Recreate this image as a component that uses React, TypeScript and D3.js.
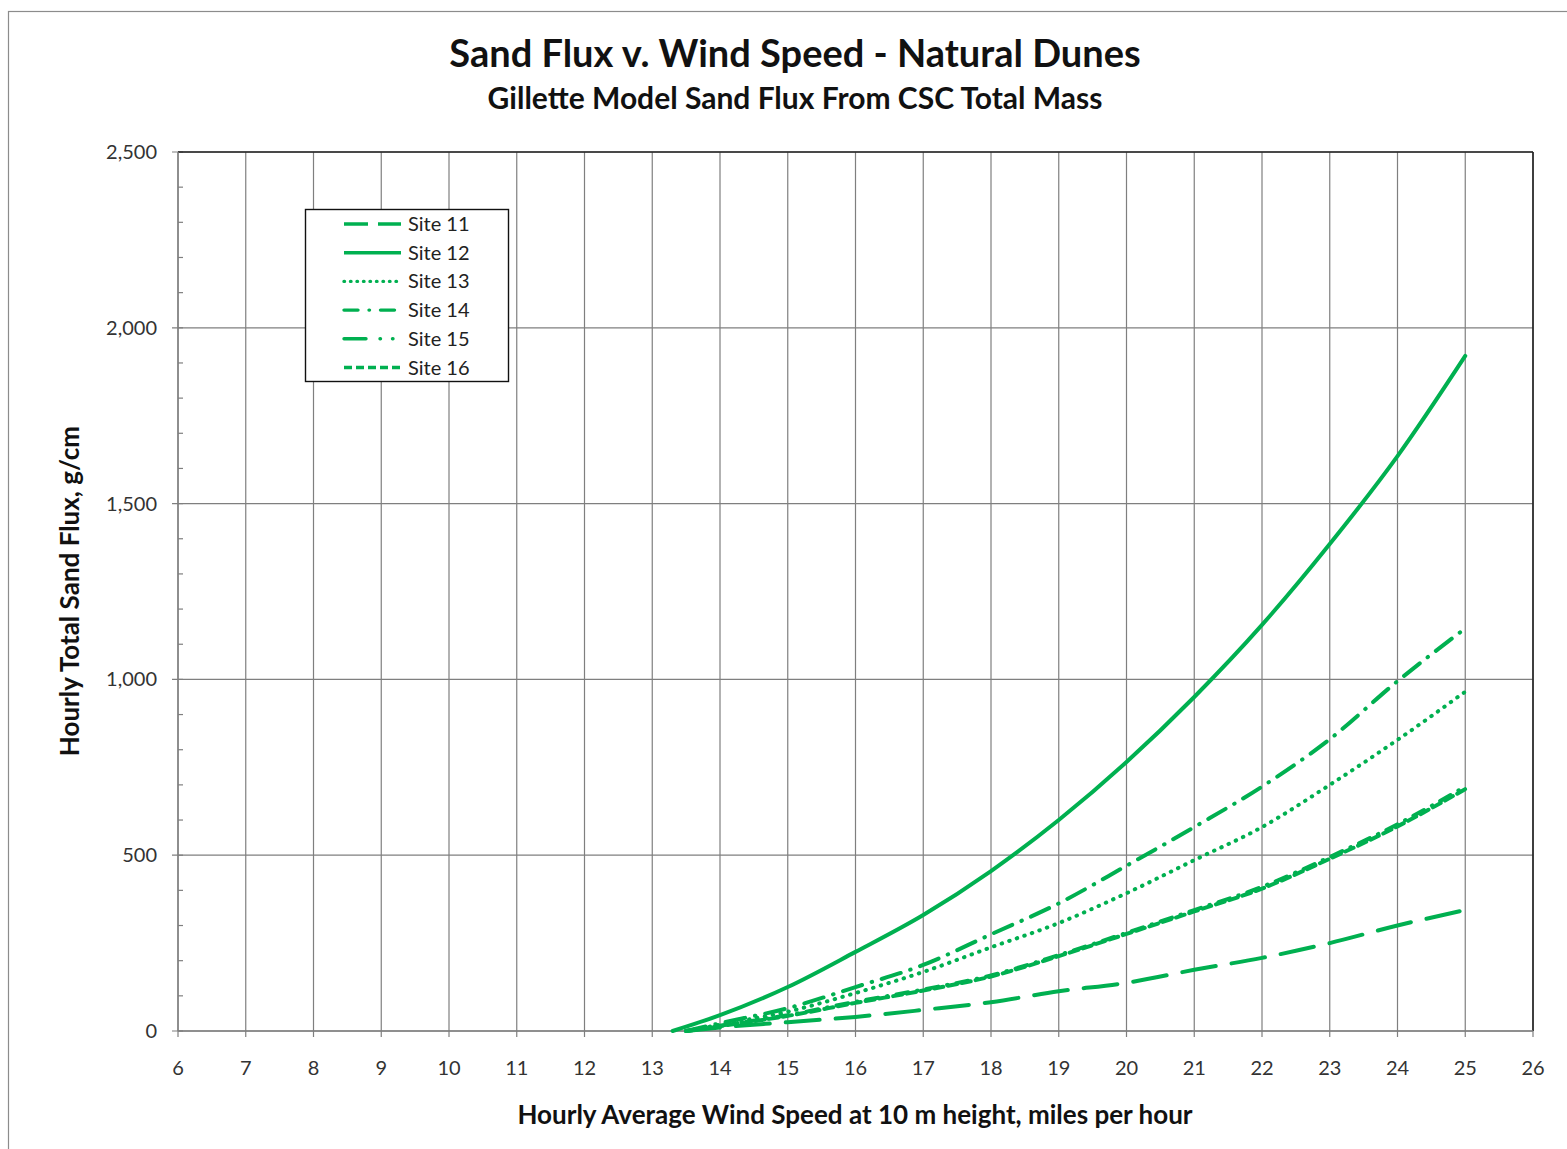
import React from "react";
import * as d3 from "d3";

const xTicks = [6, 7, 8, 9, 10, 11, 12, 13, 14, 15, 16, 17, 18, 19, 20, 21, 22, 23, 24, 25, 26];
const yTicks = [0, 500, 1000, 1500, 2000, 2500];
const yMinorTicks = d3.range(0, 2501, 100);

const speedsA = [13.3, 14, 15, 16, 17, 18, 19, 20, 21, 22, 23, 24, 25];
const speedsB = [13.5, 14, 15, 16, 17, 18, 19, 20, 21, 22, 23, 24, 25];

const site11 = [0, 10, 25, 40, 60, 82, 113, 137, 174, 208, 250, 300, 344];
const site12 = [0, 45, 125, 225, 330, 455, 600, 765, 950, 1155, 1385, 1635, 1920];
const site13 = [0, 18, 55, 108, 168, 238, 307, 392, 486, 580, 700, 828, 965];
const site14 = [0, 15, 45, 83, 118, 158, 216, 279, 344, 410, 495, 588, 695];
const site15 = [0, 22, 65, 125, 188, 275, 363, 470, 580, 695, 830, 995, 1145];
const site16 = [0, 14, 43, 80, 115, 155, 213, 276, 340, 405, 490, 582, 688];

const seriesNames = ["Site 11", "Site 12", "Site 13", "Site 14", "Site 15", "Site 16"];
const seriesValues = [site11, site12, site13, site14, site15, site16];
const seriesSpeeds = [speedsB, speedsA, speedsB, speedsB, speedsB, speedsB];
const dashes = ["34,16", "", "0.5,7.5", "12,9,0.5,9", "20,10,0.5,10", "9,5"];
const legendDashes = ["24,10", "", "0.5,6", "14,11,0.5,11", "22,14,0.5,12,0.5,12", "8,4"];

const GREEN = "#00B050";
const FONT = "Lato, 'Open Sans', sans-serif";

export default function App() {
  const W = 1567, H = 1149;
  const left = 178, right = 1533, top = 152, bottom = 1031;
  const x = d3.scaleLinear().domain([6, 26]).range([left, right]);
  const y = d3.scaleLinear().domain([0, 2500]).range([bottom, top]);
  const line = d3
    .line<[number, number]>()
    .x((d) => x(d[0]))
    .y((d) => y(d[1]))
    .curve(d3.curveMonotoneX);

  const legX = 305, legY = 209, legW = 203, legH = 172;

  return (
    <svg
      width={W}
      height={H}
      style={{ position: "absolute", left: 0, top: 0, display: "block", background: "#fff" }}
      fontFamily={FONT}
    >
      <rect x={8.5} y={11.5} width={1600} height={1200} fill="#fff" stroke="#8c8c8c" strokeWidth={1.2} />
      <text x={795} y={67} textAnchor="middle" fontSize={38} fontWeight={700} fill="#111">
        Sand Flux v. Wind Speed - Natural Dunes
      </text>
      <text x={795} y={109} textAnchor="middle" fontSize={30} fontWeight={700} fill="#111">
        Gillette Model Sand Flux From CSC Total Mass
      </text>

      {/* grid */}
      {xTicks.map((t) => (
        <line key={"gx" + t} x1={x(t)} x2={x(t)} y1={top} y2={bottom + 6} stroke="#7f7f7f" strokeWidth={1.2} />
      ))}
      {yTicks.map((t) => (
        <line key={"gy" + t} x1={left - 6} x2={right} y1={y(t)} y2={y(t)} stroke="#7f7f7f" strokeWidth={1.2} />
      ))}
      {yMinorTicks.map((t) => (
        <line key={"my" + t} x1={left} x2={left + 5} y1={y(t)} y2={y(t)} stroke="#7f7f7f" strokeWidth={1.2} />
      ))}
      <line x1={left} x2={right} y1={top} y2={top} stroke="#222" strokeWidth={1.6} />
      <line x1={right} x2={right} y1={top} y2={bottom} stroke="#222" strokeWidth={1.6} />
      <line x1={left} x2={left} y1={top} y2={bottom} stroke="#7f7f7f" strokeWidth={1.4} />
      <line x1={left} x2={right} y1={bottom} y2={bottom} stroke="#7f7f7f" strokeWidth={1.4} />

      {/* tick labels */}
      {xTicks.map((t) => (
        <text key={"tx" + t} x={x(t)} y={1075} textAnchor="middle" fontSize={20} fill="#333">
          {t}
        </text>
      ))}
      {yTicks.map((t) => (
        <text key={"ty" + t} x={157} y={y(t) + 7} textAnchor="end" fontSize={20} fill="#333">
          {d3.format(",")(t)}
        </text>
      ))}

      <text x={855} y={1124} textAnchor="middle" fontSize={26} fontWeight={700} fill="#111">
        Hourly Average Wind Speed at 10 m height, miles per hour
      </text>
      <text
        transform="translate(79,591) rotate(-90)"
        textAnchor="middle"
        fontSize={26}
        fontWeight={700}
        fill="#111"
      >
        Hourly Total Sand Flux, g/cm
      </text>

      {/* series */}
      <g>
        {seriesValues.map((vals, i) => {
          const pts = seriesSpeeds[i].map((s, j) => [s, vals[j]] as [number, number]);
          return (
            <path
              key={seriesNames[i]}
              d={line(pts) || ""}
              fill="none"
              stroke={GREEN}
              strokeWidth={4}
              strokeDasharray={dashes[i] || undefined}
              strokeLinecap="round"
            />
          );
        })}
      </g>

      {/* legend */}
      <rect x={legX + 0.5} y={legY + 0.5} width={legW} height={legH} fill="#fff" stroke="#111" strokeWidth={1.4} />
      {seriesNames.map((n, i) => {
        const cy = 224 + i * 28.7;
        return (
          <g key={"lg" + n}>
            <line
              x1={344}
              x2={401}
              y1={cy}
              y2={cy}
              stroke={GREEN}
              strokeWidth={3.4}
              strokeDasharray={legendDashes[i] || undefined}
              strokeLinecap={i === 2 || i === 3 || i === 4 ? "round" : "butt"}
            />
            <text x={408} y={cy + 7} fontSize={20} fill="#222">
              {n}
            </text>
          </g>
        );
      })}
    </svg>
  );
}
